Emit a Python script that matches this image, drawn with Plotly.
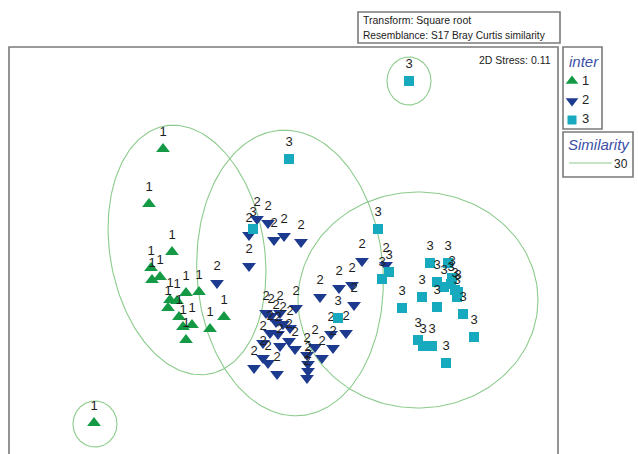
import numpy as np
import plotly.graph_objects as go

W, H = 638, 454

# ---- nMDS coordinates (arbitrary units) ----
g1_x = [-1.20, -1.34, -1.11, -1.32, -1.31, -1.23, -0.97, -0.84, -1.13, -1.06, -1.15, -1.04, -1.00, -0.91, -0.97, -0.73, -0.59, -1.89]
g1_y = [1.01, 0.46, -0.02, -0.18, -0.30, -0.27, -0.43, -0.42, -0.50, -0.51, -0.58, -0.67, -0.77, -0.75, -0.90, -0.79, -0.67, -1.73]

g2_x = [-0.26, -0.15, -0.34, -0.09, 0.01, 0.18, -0.34, -0.66, 0.79, 1.03, 0.56, 0.69, 0.71, 0.37, 0.63, 0.48, 0.50, 0.32, 0.39,
        0.13, -0.17, -0.03, -0.12, -0.07, 0.00, 0.07, -0.13, -0.05, 0.06, -0.03, -0.20, 0.12, -0.20, -0.15, -0.29, -0.06, 0.24, 0.25, 0.25, 0.24]
g2_y = [0.31, 0.27, 0.15, 0.10, 0.14, 0.08, -0.16, -0.33, -0.11, -0.15, -0.38, -0.35, -0.55, -0.47, -0.83, -0.84, -0.98, -0.97, -1.08,
        -0.58, -0.63, -0.63, -0.66, -0.72, -0.74, -0.78, -0.83, -0.84, -0.91, -0.96, -0.93, -0.99, -1.08, -1.13, -1.18, -1.24, -1.05, -1.14, -1.21, -1.28]

g3_x = [1.26, 0.06, -0.30, 0.95, 1.06, 0.99, 0.55, 1.47, 1.65, 1.54, 1.61, 1.68, 1.72, 1.74, 1.39, 1.19, 1.54, 1.80, 1.91, 1.35, 1.40, 1.49, 1.63, 1.69, 1.75]
g3_y = [1.69, 0.91, 0.21, 0.21, -0.22, -0.29, -0.68, -0.13, -0.13, -0.32, -0.37, -0.34, -0.40, -0.47, -0.47, -0.58, -0.57, -0.64, -0.87, -0.90, -0.96, -0.96, -1.13, -0.28, -0.42]

# similarity 30 contours: (centre x, centre y, semi-axis x, semi-axis y, rotation deg)
contours = [
    (-0.96, 0.00, 0.77, 1.26, 10),
    (0.07, -0.23, 0.93, 1.43, 4),
    (1.35, -0.50, 1.20, 1.08, 0),
    (1.26, 1.69, 0.22, 0.24, 0),
    (-1.88, -1.74, 0.22, 0.23, 0),
]

group_names = ["1", "2", "3"]
colors = ["#149a45", "#1c3a8e", "#17a9bd"]
symbols = ["triangle-up", "triangle-down", "square"]
sizes = [12, 12, 10]

# axis spans the whole figure: 100 px per unit
XR = [-2.83, 3.55]
YR = [-2.04, 2.50]

def px(x):
    return x / W

def py(y):
    return 1 - y / H

fig = go.Figure()

# contours
for cx, cy, a, b, rot in contours:
    t = np.linspace(0, 2 * np.pi, 200)
    th = np.deg2rad(rot)
    ex = cx + a * np.cos(t) * np.cos(th) - b * np.sin(t) * np.sin(th)
    ey = cy + a * np.cos(t) * np.sin(th) + b * np.sin(t) * np.cos(th)
    fig.add_trace(go.Scatter(x=ex, y=ey, mode="lines", line=dict(color="#8ccb8c", width=1.1),
                             hoverinfo="skip", showlegend=False))

LABEL_OFF = 0.16
for gx, gy, name, col, sym, sz in zip([g1_x, g2_x, g3_x], [g1_y, g2_y, g3_y], group_names, colors, symbols, sizes):
    fig.add_trace(go.Scatter(x=gx, y=gy, mode="markers",
                             marker=dict(symbol=sym, color=col, size=sz, line=dict(width=0)),
                             showlegend=False, name=name))
    fig.add_trace(go.Scatter(x=gx, y=[v + LABEL_OFF for v in gy], mode="text", text=[name] * len(gx),
                             textfont=dict(family="Liberation Sans, Arial", size=13, color="#1e1e1e"),
                             textposition="middle center", showlegend=False, hoverinfo="skip"))

shapes = []
box_line = dict(color="#7a7a7a", width=1.6)
# plot frame
shapes.append(dict(type="rect", xref="paper", yref="paper", x0=px(9), x1=px(558), y0=py(470), y1=py(47), line=box_line))
# title box
shapes.append(dict(type="rect", xref="paper", yref="paper", x0=px(358), x1=px(560), y0=py(43), y1=py(12), line=box_line))
# legend boxes
shapes.append(dict(type="rect", xref="paper", yref="paper", x0=px(563), x1=px(602), y0=py(129), y1=py(47), line=box_line))
shapes.append(dict(type="rect", xref="paper", yref="paper", x0=px(563), x1=px(633), y0=py(177), y1=py(132), line=box_line))
# similarity legend line
shapes.append(dict(type="line", xref="paper", yref="paper", x0=px(569), x1=px(612), y0=py(163), y1=py(163),
                   line=dict(color="#8ccb8c", width=1.2)))

ann = []
def txt(x, y, s, size=10, color="#222", italic=False, xanchor="left"):
    ann.append(dict(xref="paper", yref="paper", x=px(x), y=py(y), text=s, showarrow=False,
                    xanchor=xanchor, yanchor="middle",
                    font=dict(family="Liberation Sans, Arial", size=size, color=color,
                              style="italic" if italic else "normal")))

txt(361, 20, "Transform: Square root", 10.5)
txt(361, 35, "Resemblance: S17 Bray Curtis similarity", 10.2)
txt(553, 60, "2D Stress: 0.11", 10.5, xanchor="right")
txt(567, 61, "inter", 15, color="#3a4fa6", italic=True)
txt(580, 81, "1", 13)
txt(580, 100, "2", 13)
txt(580, 119, "3", 13)
txt(566, 145, "Similarity", 15, color="#3a4fa6", italic=True)
txt(630, 164, "30", 12, xanchor="right")

# legend markers (paper positions converted to data units)
def dx(x):
    return XR[0] + x / W * (XR[1] - XR[0])

def dy(y):
    return YR[1] - y / H * (YR[1] - YR[0])

leg_y = [81, 101, 120]
for col, sym, sz, ly in zip(colors, symbols, sizes, leg_y):
    fig.add_trace(go.Scatter(x=[dx(572)], y=[dy(ly)], mode="markers",
                             marker=dict(symbol=sym, color=col, size=sz - 1),
                             showlegend=False, hoverinfo="skip", cliponaxis=False))

fig.update_layout(
    width=W, height=H, autosize=False,
    margin=dict(l=0, r=0, t=0, b=0),
    paper_bgcolor="white", plot_bgcolor="white",
    xaxis=dict(range=XR, visible=False, showgrid=False, zeroline=False, fixedrange=True),
    yaxis=dict(range=YR, visible=False, showgrid=False, zeroline=False, fixedrange=True),
    shapes=shapes, annotations=ann, showlegend=False,
)

fig.write_html("out.html")
